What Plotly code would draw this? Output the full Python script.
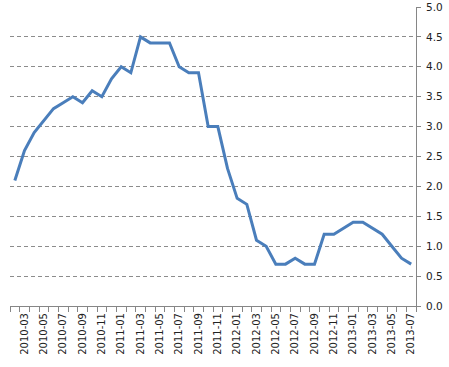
import plotly.graph_objects as go

months = [
    "2010-02","2010-03","2010-04","2010-05","2010-06","2010-07","2010-08","2010-09","2010-10","2010-11","2010-12",
    "2011-01","2011-02","2011-03","2011-04","2011-05","2011-06","2011-07","2011-08","2011-09","2011-10","2011-11","2011-12",
    "2012-01","2012-02","2012-03","2012-04","2012-05","2012-06","2012-07","2012-08","2012-09","2012-10","2012-11","2012-12",
    "2013-01","2013-02","2013-03","2013-04","2013-05","2013-06","2013-07",
]
values = [
    2.1, 2.6, 2.9, 3.1, 3.3, 3.4, 3.5, 3.4, 3.6, 3.5, 3.8,
    4.0, 3.9, 4.5, 4.4, 4.4, 4.4, 4.0, 3.9, 3.9, 3.0, 3.0, 2.3,
    1.8, 1.7, 1.1, 1.0, 0.7, 0.7, 0.8, 0.7, 0.7, 1.2, 1.2, 1.3,
    1.4, 1.4, 1.3, 1.2, 1.0, 0.8, 0.7,
]
y_ticks = [0.0, 0.5, 1.0, 1.5, 2.0, 2.5, 3.0, 3.5, 4.0, 4.5, 5.0]
y_labels = ["0.0", "0.5", "1.0", "1.5", "2.0", "2.5", "3.0", "3.5", "4.0", "4.5", "5.0"]

idx = list(range(len(months)))
label_idx = idx[1::2]
label_text = [months[i] for i in label_idx]

fig = go.Figure()
fig.add_trace(go.Scatter(
    x=idx, y=values, mode="lines",
    line=dict(color="#4a7ebb", width=3),
    hoverinfo="skip", showlegend=False,
))

fig.update_layout(
    width=449, height=367,
    margin=dict(l=10, r=33, t=7, b=61, autoexpand=False),
    paper_bgcolor="white", plot_bgcolor="white",
    font=dict(family="DejaVu Sans", size=10, color="#222"),
    xaxis=dict(
        range=[-0.5, len(months) - 0.5], automargin=False,
        tickmode="array", tickvals=label_idx, ticktext=label_text,
        tickangle=-90, ticks="", showgrid=False, zeroline=False,
        showline=True, linecolor="#868686", linewidth=1,
        minor=dict(ticks="outside", ticklen=5, tickcolor="#868686",
                   tick0=-0.5, dtick=1, showgrid=False),
        tickfont=dict(size=10), ticklabelstandoff=2,
    ),
    yaxis=dict(
        side="right", range=[0, 5], automargin=False,
        tickmode="array", tickvals=y_ticks, ticktext=y_labels,
        ticks="outside", ticklen=4, tickcolor="#868686",
        showline=True, linecolor="#868686", linewidth=1,
        showgrid=True, gridcolor="#8c8c8c", griddash="4px,3px", gridwidth=1,
        zeroline=False, tickfont=dict(size=10.5), ticklabelstandoff=3,
    ),
)

fig.write_html(
    "out.html",
    config={"displayModeBar": False, "staticPlot": True},
    post_script="document.body.style.margin='0';document.body.style.overflow='hidden';",
)
